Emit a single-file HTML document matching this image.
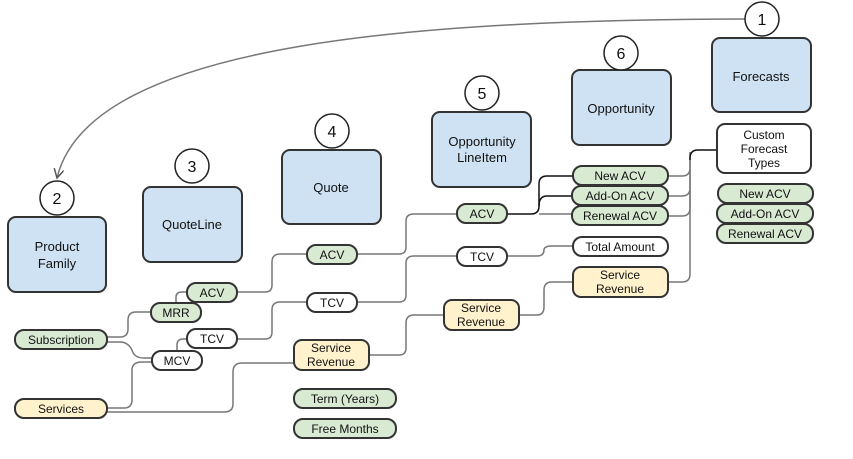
<!DOCTYPE html>
<html><head><meta charset="utf-8"><style>
html,body{margin:0;padding:0;background:#fff;}
svg{display:block;}
text{font-family:"Liberation Sans",Arial,sans-serif;fill:#111;}
.b{fill:#cfe2f3;stroke:#333;stroke-width:2;}
.g{fill:#d9ead3;stroke:#333;stroke-width:2;}
.y{fill:#fff2cc;stroke:#333;stroke-width:2;}
.w{fill:#fff;stroke:#333;stroke-width:2;}
.c{fill:#fff;stroke:#222;stroke-width:1.5;}
.l{fill:none;stroke:#777;stroke-width:1.5;}
.k{fill:none;stroke:#111;stroke-width:1.5;}
</style></head><body>
<svg width="853" height="459" viewBox="0 0 853 459">
<defs><marker id="a" markerWidth="12" markerHeight="12" refX="9" refY="5" orient="auto" markerUnits="userSpaceOnUse"><path d="M0,0 L9,5 L0,10" fill="none" stroke="#555" stroke-width="1.5"/></marker></defs>
<path class="l" d="M745,19 C430,20 90,40 57,178" stroke="#666" marker-end="url(#a)"/>
<g class="l">
<path d="M107,337 H120 Q128,337 128,329 V320 Q128,312 136,312 H151"/>
<path d="M107,342 H120 Q128,342 132,350 Q134,358 144,358 H152"/>
<path d="M107,408 H124 Q132,408 132,400 V370 Q132,362 142,362 H152"/>
<path d="M107,412 H224 Q233,412 233,404 V372 Q233,363 242,363 H294"/>
<path d="M176,303 V297 Q176,292 182,292 H187"/>
<path d="M177,351 V345 Q177,339 183,339 H187"/>
<path d="M237,292 H265 Q272,292 272,285 V262 Q272,254 280,254 H307"/>
<path d="M237,339 H265 Q272,339 272,332 V310 Q272,302 280,302 H307"/>
<path d="M357,254 H399 Q406,254 406,247 V221 Q406,214 414,214 H457"/>
<path d="M357,302 H399 Q406,302 406,295 V263 Q406,256 414,256 H457"/>
<path d="M369,355 H399 Q406,355 406,348 V323 Q406,315 414,315 H444"/>
<path d="M539,214 H572"/>
<path d="M507,256 H537 Q544,256 544,250 Q544,246 552,246 H573"/>
<path d="M519,315 H537 Q544,315 544,307 V290 Q544,282 552,282 H573"/>
<path d="M668,176 H682 Q690,176 690,168 V152"/>
<path d="M668,196 H682 Q690,196 690,188 V170"/>
<path d="M668,216 H682 Q690,216 690,208 V190"/>
<path d="M668,282 H682 Q690,282 690,274 V160"/>
</g>
<g class="k">
<path d="M507,214 H531 Q539,214 539,206 V184 Q539,176 547,176 H573"/>
<path d="M539,206 Q539,196 547,196 H572"/>
<path d="M690,160 V158 Q690,150 698,150 H717"/>
</g>
<rect class="b" x="8" y="217" width="98" height="75" rx="8"/>
<text x="57" y="251" font-size="13" text-anchor="middle">Product</text>
<text x="57" y="268" font-size="13" text-anchor="middle">Family</text>
<rect class="b" x="143" y="187" width="99" height="75" rx="8"/>
<text x="192" y="229" font-size="13" text-anchor="middle">QuoteLine</text>
<rect class="b" x="282" y="150" width="99" height="74" rx="8"/>
<text x="331" y="192" font-size="13" text-anchor="middle">Quote</text>
<rect class="b" x="432" y="112" width="99" height="75" rx="8"/>
<text x="482" y="146" font-size="13" text-anchor="middle">Opportunity</text>
<text x="482" y="162" font-size="13" text-anchor="middle">LineItem</text>
<rect class="b" x="572" y="70" width="99" height="75" rx="8"/>
<text x="621" y="113" font-size="13" text-anchor="middle">Opportunity</text>
<rect class="b" x="712" y="38" width="99" height="74" rx="8"/>
<text x="761" y="81" font-size="13" text-anchor="middle">Forecasts</text>
<g font-size="16" text-anchor="middle">
<circle class="c" cx="762" cy="19" r="17"/><text x="762" y="25">1</text>
<circle class="c" cx="57" cy="198" r="17"/><text x="57" y="204">2</text>
<circle class="c" cx="192" cy="166" r="17"/><text x="192" y="172">3</text>
<circle class="c" cx="332" cy="131" r="17"/><text x="332" y="137">4</text>
<circle class="c" cx="482" cy="93" r="17"/><text x="482" y="99">5</text>
<circle class="c" cx="621" cy="53" r="17"/><text x="621" y="59">6</text>
</g>
<g font-size="12" text-anchor="middle">
<rect class="g" x="15" y="330" width="92" height="19" rx="9"/><text x="61" y="344">Subscription</text>
<rect class="y" x="15" y="399" width="92" height="19" rx="9"/><text x="61" y="413">Services</text>
<rect class="g" x="151" y="303" width="50" height="19" rx="9"/><text x="176" y="317">MRR</text>
<rect class="g" x="187" y="283" width="50" height="19" rx="9"/><text x="212" y="297">ACV</text>
<rect class="w" x="152" y="351" width="50" height="19" rx="9"/><text x="177" y="365">MCV</text>
<rect class="w" x="187" y="329" width="50" height="19" rx="9"/><text x="212" y="343">TCV</text>
<rect class="g" x="307" y="245" width="50" height="19" rx="9"/><text x="332" y="259">ACV</text>
<rect class="w" x="307" y="293" width="50" height="19" rx="9"/><text x="332" y="307">TCV</text>
<rect class="y" x="294" y="340" width="75" height="30" rx="8"/><text x="331" y="352">Service</text><text x="331" y="366">Revenue</text>
<rect class="g" x="294" y="389" width="102" height="19" rx="9"/><text x="345" y="403">Term (Years)</text>
<rect class="g" x="294" y="419" width="102" height="19" rx="9"/><text x="345" y="433">Free Months</text>
<rect class="g" x="457" y="204" width="50" height="19" rx="9"/><text x="482" y="218">ACV</text>
<rect class="w" x="457" y="247" width="50" height="19" rx="9"/><text x="482" y="261">TCV</text>
<rect class="y" x="444" y="300" width="75" height="30" rx="8"/><text x="481" y="312">Service</text><text x="481" y="326">Revenue</text>
<rect class="g" x="573" y="166" width="95" height="19" rx="9"/><text x="620" y="180">New ACV</text>
<rect class="g" x="572" y="186" width="96" height="19" rx="9"/><text x="620" y="200">Add-On ACV</text>
<rect class="g" x="572" y="206" width="96" height="19" rx="9"/><text x="620" y="220">Renewal ACV</text>
<rect class="w" x="573" y="237" width="95" height="19" rx="9"/><text x="620" y="251">Total Amount</text>
<rect class="y" x="573" y="267" width="95" height="30" rx="8"/><text x="620" y="279">Service</text><text x="620" y="293">Revenue</text>
<rect class="w" x="717" y="124" width="94" height="49" rx="8"/><text x="764" y="139">Custom</text><text x="764" y="153">Forecast</text><text x="764" y="167">Types</text>
<rect class="g" x="718" y="184" width="95" height="19" rx="9"/><text x="765" y="198">New ACV</text>
<rect class="g" x="717" y="204" width="96" height="19" rx="9"/><text x="765" y="218">Add-On ACV</text>
<rect class="g" x="717" y="224" width="96" height="19" rx="9"/><text x="765" y="238">Renewal ACV</text>
</g>
</svg>
</body></html>
